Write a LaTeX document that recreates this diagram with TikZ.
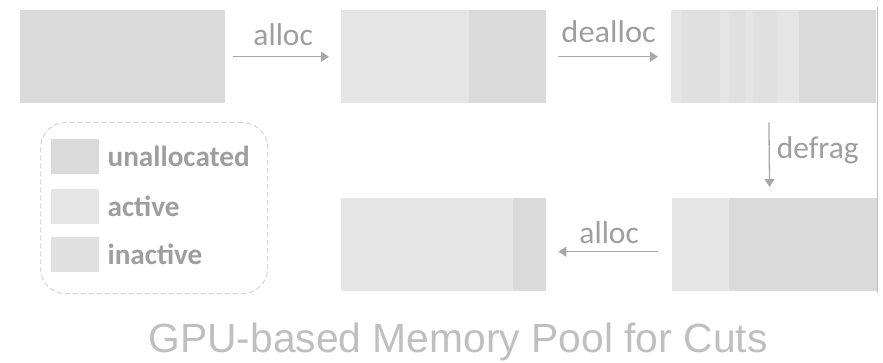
\documentclass[tikz,border=0pt]{standalone}
\usepackage{fontspec}
\setmainfont{Carlito}
\newfontfamily\titlefont{Liberation Sans}
\usetikzlibrary{arrows.meta,positioning}

\definecolor{unalloc}{HTML}{DADADA}
\definecolor{actv}{HTML}{E5E5E5}
\definecolor{inactv}{HTML}{E0E0E0}
\definecolor{labelgray}{HTML}{9E9E9E}
\definecolor{arrowgray}{HTML}{A8A8A8}
\definecolor{titlegray}{HTML}{BFBFBF}
\definecolor{dashgray}{HTML}{D9D9D9}

\tikzset{
  mem/.style={fill=unalloc,minimum width=205pt,minimum height=93pt,inner sep=0pt,anchor=north west},
  flow/.style={draw=arrowgray,line width=1.3pt,-{Triangle[length=8pt,width=10pt]}},
  oplabel/.style={text=labelgray,inner sep=0pt,font=\fontsize{31.5}{31.5}\selectfont},
  swatch/.style={minimum width=48pt,minimum height=35pt,inner sep=0pt,anchor=north west},
  legtext/.style={text=labelgray,inner sep=0pt,font=\bfseries\fontsize{29.2}{29.2}\selectfont}
}

\begin{document}
\begin{tikzpicture}[x=1pt,y=-1pt]
\useasboundingbox (0,0) rectangle (883,363);

% memory pool states
\node[mem] (m1) at (20,10) {};
\node[mem] (m2) at (341,10) {};
\node[mem] (m3) at (671,10) {};
\node[mem] (m4) at (341,198) {};
\node[mem] (m5) at (672,198) {};

\fill[actv] (341,10) rectangle (469,103);
\fill[inactv] (671,10) rectangle (799,103);
\foreach \a/\b in {671/682,720/729,746/753,777/799}
  \fill[actv] (\a,10) rectangle (\b,103);
\fill[actv] (341,198) rectangle (513,291);
\fill[actv] (672,198) rectangle (729,291);

\draw[line width=0.8pt,color=titlegray] (877,7) -- (877,293);

% transitions
\draw[flow,shorten <=8pt,shorten >=12pt] (m1.east) -- node[oplabel,above=10pt] (op1) {alloc} (m2.west);
\draw[flow,shorten <=12pt,shorten >=13pt] (m2.east) -- node[oplabel,above=13pt,xscale=1.03] (op2) {dealloc} (m3.west);
\draw[flow,shorten <=19pt,shorten >=11pt] ([xshift=-5pt]m3.south) -- node[oplabel,right=7pt] (op3) {defrag} ([xshift=-5pt]m5.north);
\draw[flow,shorten <=14pt,shorten >=12pt] ([yshift=-7pt]m5.west) -- node[oplabel,above=7pt] (op4) {alloc} ([yshift=-7pt]m4.east);

% legend
\node[draw=dashgray,line width=1.2pt,dash pattern=on 5pt off 3pt,rounded corners=25pt,minimum width=227pt,minimum height=171pt,anchor=north west] (legend) at (40,122) {};
\foreach \c/\t/\y [count=\i] in {unalloc/unallocated/139,actv/active/189,inactv/inactive/237}{
  \node[swatch,fill=\c] (sw\i) at (51,\y) {};
  \node[legtext,right=8pt of sw\i] (lt\i) {\t};
}

\node[text=titlegray,font=\titlefont\fontsize{40.8}{40.8}\selectfont,anchor=base] (title) at (458,352) {GPU-based Memory Pool for Cuts};
\end{tikzpicture}
\end{document}
